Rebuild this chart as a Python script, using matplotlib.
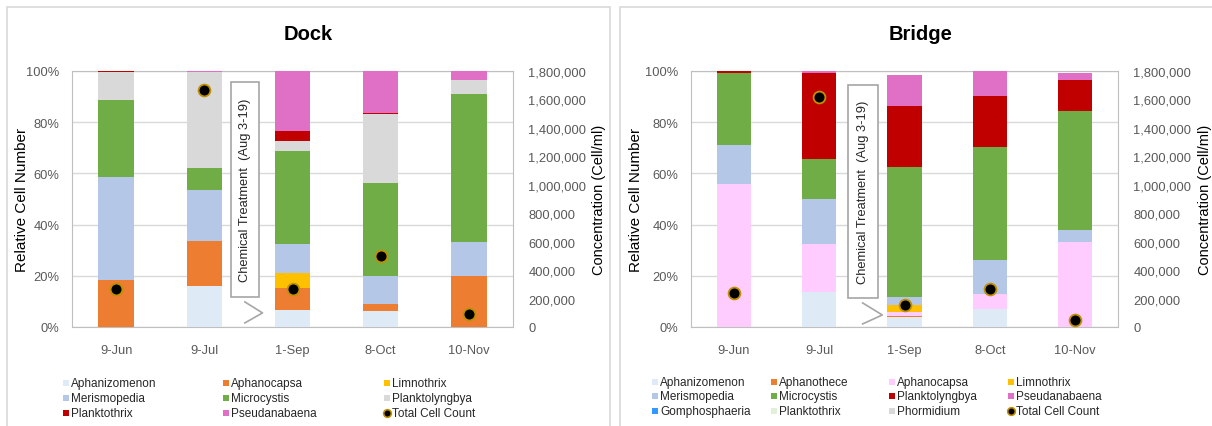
import numpy as np
import matplotlib.pyplot as plt
from matplotlib.patches import Rectangle
from matplotlib.lines import Line2D
from matplotlib.ticker import FuncFormatter, PercentFormatter

plt.rcParams['font.family'] = ['Liberation Sans', 'DejaVu Sans']

dates = ["9-Jun", "9-Jul", "1-Sep", "8-Oct", "10-Nov"]

# Dock: relative cell number (%) per genus
dock_species = ["Aphanizomenon", "Aphanocapsa", "Limnothrix", "Merismopedia",
                "Microcystis", "Planktolyngbya", "Planktothrix", "Pseudanabaena"]
dock_colors = ["#DEEBF7", "#ED7D31", "#FFC000", "#B4C7E7",
               "#70AD47", "#D9D9D9", "#C00000", "#E06FC6"]
dock_aphanizomenon = [0, 16.1, 6.6, 6.1, 0]
dock_aphanocapsa = [18.4, 17.5, 8.6, 3.0, 20.1]
dock_limnothrix = [0, 0, 6.0, 0, 0]
dock_merismopedia = [40.0, 19.8, 11.4, 11.0, 13.1]
dock_microcystis = [30.2, 8.8, 36.2, 36.1, 57.7]
dock_planktolyngbya = [10.9, 37.3, 3.9, 27.0, 5.6]
dock_planktothrix = [0.5, 0, 3.7, 0.3, 0]
dock_pseudanabaena = [0, 0.5, 23.6, 16.5, 3.5]
dock_total = [265000, 1669000, 266000, 500000, 89000]

# Bridge
bridge_species = ["Aphanizomenon", "Aphanothece", "Aphanocapsa", "Limnothrix",
                  "Merismopedia", "Microcystis", "Planktolyngbya", "Pseudanabaena",
                  "Gomphosphaeria", "Planktothrix", "Phormidium"]
bridge_colors = ["#DEEBF7", "#ED7D31", "#FFCCFF", "#FFC000",
                 "#B4C7E7", "#70AD47", "#C00000", "#E06FC6",
                 "#3399FF", "#E2F0D9", "#D9D9D9"]
bridge_aphanizomenon = [0, 13.8, 3.8, 7.0, 0]
bridge_aphanothece = [0, 0, 0.5, 0, 0]
bridge_aphanocapsa = [55.8, 18.8, 1.5, 5.9, 33.2]
bridge_limnothrix = [0, 0, 2.8, 0, 0]
bridge_merismopedia = [15.4, 17.5, 3.0, 13.2, 4.5]
bridge_microcystis = [27.9, 15.5, 51.0, 44.2, 46.7]
bridge_planktolyngbya = [0.9, 33.5, 23.9, 20.1, 12.2]
bridge_pseudanabaena = [0, 0.9, 12.1, 9.6, 2.5]
bridge_gomphosphaeria = [0, 0, 0, 0, 0]
bridge_planktothrix = [0, 0, 0, 0, 0]
bridge_phormidium = [0, 0, 0, 0, 0]
bridge_total = [236000, 1620000, 152000, 266000, 51000]

dock_values = [dock_aphanizomenon, dock_aphanocapsa, dock_limnothrix, dock_merismopedia,
               dock_microcystis, dock_planktolyngbya, dock_planktothrix, dock_pseudanabaena]
bridge_values = [bridge_aphanizomenon, bridge_aphanothece, bridge_aphanocapsa,
                 bridge_limnothrix, bridge_merismopedia, bridge_microcystis,
                 bridge_planktolyngbya, bridge_pseudanabaena, bridge_gomphosphaeria,
                 bridge_planktothrix, bridge_phormidium]

W, H = 1212, 427
fig = plt.figure(figsize=(W / 100, H / 100), dpi=100)


def fx(px):
    return px / W


def fy(py):
    return 1 - py / H


tick_col = "#595959"
grid_col = "#D9D9D9"
dot_edge = "#BF9000"


def panel(left, right, title, title_x, species, colors, values, total, box, chevron,
          ylab_x, ylab2_x):
    width = right - left
    ax = fig.add_axes([fx(left), fy(328), width / W, 256 / H])
    x = np.arange(len(dates))
    bottom = np.zeros(len(dates))
    for name, col, vals in zip(species, colors, values):
        vals = np.array(vals, dtype=float)
        ax.bar(x, vals, 0.4, bottom=bottom, color=col, label=name, zorder=3)
        bottom += vals
    ax.set_xlim(-0.5, len(dates) - 0.5)
    ax.set_ylim(0, 100)
    ax.set_yticks(np.arange(0, 101, 20))
    ax.yaxis.set_major_formatter(PercentFormatter(decimals=0))
    ax.set_xticks(x)
    ax.set_xticklabels(dates)
    ax.tick_params(length=0, labelsize=9.3, colors=tick_col)
    ax.tick_params(axis='x', pad=12)
    ax.tick_params(axis='y', pad=9)
    ax.grid(axis='y', color=grid_col, lw=1, zorder=0)
    for s in ax.spines.values():
        s.set_color("#BFBFBF")
    ax.set_ylabel("Relative Cell Number", fontsize=11)
    ax.yaxis.set_label_coords((ylab_x - left) / width, 0.5)

    # treatment marker
    bx, bw, by0, by1 = box
    ax.add_patch(Rectangle((bx - bw / 2, by0), bw, by1 - by0, facecolor="white",
                           edgecolor="#A6A6A6", lw=1.2, zorder=5))
    ax.text(bx, (by0 + by1) / 2, "Chemical Treatment  (Aug 3-19)", rotation=90,
            ha="center", va="center", fontsize=9.3, color="#262626", zorder=6)
    cx, cy = chevron
    ax.plot(cx, cy, color="#A6A6A6", lw=1.2, zorder=5, clip_on=False)

    ax2 = ax.twinx()
    ax2.set_ylim(0, 1800000)
    ax2.set_yticks(np.arange(0, 1800001, 200000))
    ax2.yaxis.set_major_formatter(FuncFormatter(lambda v, p: f"{int(v):,}"))
    ax2.tick_params(length=0, labelsize=9.3, colors=tick_col, pad=11)
    for s in ax2.spines.values():
        s.set_visible(False)
    ax2.plot(x, total, 'o', ms=8.5, mfc="black", mec=dot_edge, mew=1.3, zorder=7)
    ax2.set_ylabel("Concentration (Cell/ml)", fontsize=10.5)
    ax2.yaxis.set_label_coords((ylab2_x - left) / width, 0.5)

    fig.text(fx(title_x), fy(35), title, ha="center", va="center",
             fontsize=14.5, fontweight="bold")
    return ax


panel(72, 513, "Dock", 308, dock_species, dock_colors, dock_values, dock_total,
      (1.46, 0.32, 11.7, 95.7), ([1.46, 1.66, 1.46], [9.8, 5.5, 1.6]), 29, 592)
panel(691, 1118, "Bridge", 921, bridge_species, bridge_colors, bridge_values, bridge_total,
      (1.51, 0.35, 11.3, 94.5), ([1.51, 1.74, 1.51], [9.4, 4.7, 1.2]), 643, 1198)

# panel frames
for x0, x1 in [(7, 610), (620, 1216)]:
    fig.add_artist(Rectangle((fx(x0), fy(432)), (x1 - x0) / W, (432 - 8) / H,
                             transform=fig.transFigure, fill=False,
                             edgecolor="#D9D9D9", lw=1.2))


def legend(entries, cols, rows):
    # entries listed row by row
    ncol = len(cols)
    for i, (name, col) in enumerate(entries):
        px = cols[i % ncol]
        py = rows[i // ncol]
        if col is None:
            fig.add_artist(Line2D([fx(px + 3)], [fy(py)], marker='o', ms=5.5,
                                  mfc="black", mec=dot_edge, mew=1.2,
                                  transform=fig.transFigure))
        else:
            fig.add_artist(Rectangle((fx(px), fy(py + 3)), 6 / W, 6 / H,
                                     transform=fig.transFigure, color=col, lw=0))
        fig.text(fx(px + 8), fy(py), name, ha="left", va="center",
                 fontsize=8.5, color="#262626")


legend(list(zip(dock_species, dock_colors)) + [("Total Cell Count", None)],
       [63, 223, 384], [384, 399, 414])
legend(list(zip(bridge_species, bridge_colors)) + [("Total Cell Count", None)],
       [652, 771, 889, 1008], [383, 397, 412])

fig.savefig("out.png", dpi=100)
